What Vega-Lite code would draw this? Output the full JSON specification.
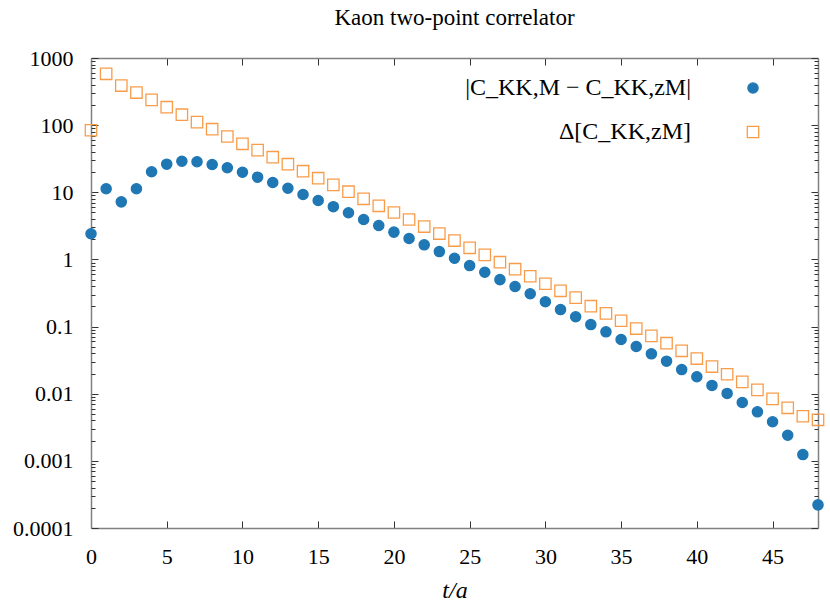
{
  "$schema": "https://vega.github.io/schema/vega-lite/v6.json",
  "autosize": "none",
  "width": 727,
  "height": 470,
  "padding": {"left": 91, "top": 58, "right": 12, "bottom": 87},
  "background": "white",
  "config": {
    "view": {"stroke": null},
    "font": "Liberation Serif",
    "axis": {
      "grid": false,
      "labelFont": "Liberation Serif",
      "labelFontSize": 22,
      "labelColor": "black",
      "titleFont": "Liberation Serif",
      "titleColor": "black",
      "domainColor": "#808080",
      "domainWidth": 1.5,
      "tickColor": "#333333",
      "tickWidth": 1,
      "labelFlush": false,
      "labelOverlap": false,
      "labelBound": false
    },
    "legend": {
      "orient": "none",
      "legendX": 650,
      "legendY": 18,
      "labelAlign": "right",
      "labelOffset": -74,
      "labelFont": "Liberation Serif",
      "labelFontSize": 24,
      "labelColor": "black",
      "labelLimit": 0,
      "rowPadding": 20,
      "symbolStrokeWidth": 1.3
    }
  },
  "title": {
    "text": "Kaon two-point correlator",
    "font": "Liberation Serif",
    "fontSize": 23,
    "fontWeight": "normal",
    "color": "black",
    "anchor": "middle",
    "frame": "group",
    "offset": 17
  },
  "data": {
    "values": [
      {"t": 0, "v": 2.41, "series": "|C_KK,M − C_KK,zM|"},
      {"t": 1, "v": 11.3, "series": "|C_KK,M − C_KK,zM|"},
      {"t": 2, "v": 7.2, "series": "|C_KK,M − C_KK,zM|"},
      {"t": 3, "v": 11.3, "series": "|C_KK,M − C_KK,zM|"},
      {"t": 4, "v": 20.2, "series": "|C_KK,M − C_KK,zM|"},
      {"t": 5, "v": 26.2, "series": "|C_KK,M − C_KK,zM|"},
      {"t": 6, "v": 29, "series": "|C_KK,M − C_KK,zM|"},
      {"t": 7, "v": 28.5, "series": "|C_KK,M − C_KK,zM|"},
      {"t": 8, "v": 25.9, "series": "|C_KK,M − C_KK,zM|"},
      {"t": 9, "v": 23.2, "series": "|C_KK,M − C_KK,zM|"},
      {"t": 10, "v": 19.9, "series": "|C_KK,M − C_KK,zM|"},
      {"t": 11, "v": 16.8, "series": "|C_KK,M − C_KK,zM|"},
      {"t": 12, "v": 14.0, "series": "|C_KK,M − C_KK,zM|"},
      {"t": 13, "v": 11.5, "series": "|C_KK,M − C_KK,zM|"},
      {"t": 14, "v": 9.27, "series": "|C_KK,M − C_KK,zM|"},
      {"t": 15, "v": 7.55, "series": "|C_KK,M − C_KK,zM|"},
      {"t": 16, "v": 6.1, "series": "|C_KK,M − C_KK,zM|"},
      {"t": 17, "v": 4.95, "series": "|C_KK,M − C_KK,zM|"},
      {"t": 18, "v": 3.93, "series": "|C_KK,M − C_KK,zM|"},
      {"t": 19, "v": 3.2, "series": "|C_KK,M − C_KK,zM|"},
      {"t": 20, "v": 2.55, "series": "|C_KK,M − C_KK,zM|"},
      {"t": 21, "v": 2.05, "series": "|C_KK,M − C_KK,zM|"},
      {"t": 22, "v": 1.65, "series": "|C_KK,M − C_KK,zM|"},
      {"t": 23, "v": 1.31, "series": "|C_KK,M − C_KK,zM|"},
      {"t": 24, "v": 1.04, "series": "|C_KK,M − C_KK,zM|"},
      {"t": 25, "v": 0.81, "series": "|C_KK,M − C_KK,zM|"},
      {"t": 26, "v": 0.645, "series": "|C_KK,M − C_KK,zM|"},
      {"t": 27, "v": 0.5, "series": "|C_KK,M − C_KK,zM|"},
      {"t": 28, "v": 0.395, "series": "|C_KK,M − C_KK,zM|"},
      {"t": 29, "v": 0.308, "series": "|C_KK,M − C_KK,zM|"},
      {"t": 30, "v": 0.234, "series": "|C_KK,M − C_KK,zM|"},
      {"t": 31, "v": 0.179, "series": "|C_KK,M − C_KK,zM|"},
      {"t": 32, "v": 0.14, "series": "|C_KK,M − C_KK,zM|"},
      {"t": 33, "v": 0.107, "series": "|C_KK,M − C_KK,zM|"},
      {"t": 34, "v": 0.0836, "series": "|C_KK,M − C_KK,zM|"},
      {"t": 35, "v": 0.0642, "series": "|C_KK,M − C_KK,zM|"},
      {"t": 36, "v": 0.0505, "series": "|C_KK,M − C_KK,zM|"},
      {"t": 37, "v": 0.0393, "series": "|C_KK,M − C_KK,zM|"},
      {"t": 38, "v": 0.0305, "series": "|C_KK,M − C_KK,zM|"},
      {"t": 39, "v": 0.0229, "series": "|C_KK,M − C_KK,zM|"},
      {"t": 40, "v": 0.0179, "series": "|C_KK,M − C_KK,zM|"},
      {"t": 41, "v": 0.0133, "series": "|C_KK,M − C_KK,zM|"},
      {"t": 42, "v": 0.0101, "series": "|C_KK,M − C_KK,zM|"},
      {"t": 43, "v": 0.0074, "series": "|C_KK,M − C_KK,zM|"},
      {"t": 44, "v": 0.00537, "series": "|C_KK,M − C_KK,zM|"},
      {"t": 45, "v": 0.00382, "series": "|C_KK,M − C_KK,zM|"},
      {"t": 46, "v": 0.00241, "series": "|C_KK,M − C_KK,zM|"},
      {"t": 47, "v": 0.00124, "series": "|C_KK,M − C_KK,zM|"},
      {"t": 48, "v": 0.000221, "series": "|C_KK,M − C_KK,zM|"},
      {"t": 0, "v": 84, "series": "Δ[C_KK,zM]"},
      {"t": 1, "v": 582, "series": "Δ[C_KK,zM]"},
      {"t": 2, "v": 389, "series": "Δ[C_KK,zM]"},
      {"t": 3, "v": 306, "series": "Δ[C_KK,zM]"},
      {"t": 4, "v": 238, "series": "Δ[C_KK,zM]"},
      {"t": 5, "v": 185, "series": "Δ[C_KK,zM]"},
      {"t": 6, "v": 143, "series": "Δ[C_KK,zM]"},
      {"t": 7, "v": 111, "series": "Δ[C_KK,zM]"},
      {"t": 8, "v": 87, "series": "Δ[C_KK,zM]"},
      {"t": 9, "v": 67.7, "series": "Δ[C_KK,zM]"},
      {"t": 10, "v": 52.7, "series": "Δ[C_KK,zM]"},
      {"t": 11, "v": 42.4, "series": "Δ[C_KK,zM]"},
      {"t": 12, "v": 33.3, "series": "Δ[C_KK,zM]"},
      {"t": 13, "v": 26.2, "series": "Δ[C_KK,zM]"},
      {"t": 14, "v": 20.6, "series": "Δ[C_KK,zM]"},
      {"t": 15, "v": 16.2, "series": "Δ[C_KK,zM]"},
      {"t": 16, "v": 12.9, "series": "Δ[C_KK,zM]"},
      {"t": 17, "v": 10.2, "series": "Δ[C_KK,zM]"},
      {"t": 18, "v": 8.0, "series": "Δ[C_KK,zM]"},
      {"t": 19, "v": 6.29, "series": "Δ[C_KK,zM]"},
      {"t": 20, "v": 5.0, "series": "Δ[C_KK,zM]"},
      {"t": 21, "v": 3.93, "series": "Δ[C_KK,zM]"},
      {"t": 22, "v": 3.09, "series": "Δ[C_KK,zM]"},
      {"t": 23, "v": 2.43, "series": "Δ[C_KK,zM]"},
      {"t": 24, "v": 1.91, "series": "Δ[C_KK,zM]"},
      {"t": 25, "v": 1.49, "series": "Δ[C_KK,zM]"},
      {"t": 26, "v": 1.17, "series": "Δ[C_KK,zM]"},
      {"t": 27, "v": 0.91, "series": "Δ[C_KK,zM]"},
      {"t": 28, "v": 0.715, "series": "Δ[C_KK,zM]"},
      {"t": 29, "v": 0.562, "series": "Δ[C_KK,zM]"},
      {"t": 30, "v": 0.434, "series": "Δ[C_KK,zM]"},
      {"t": 31, "v": 0.341, "series": "Δ[C_KK,zM]"},
      {"t": 32, "v": 0.27, "series": "Δ[C_KK,zM]"},
      {"t": 33, "v": 0.201, "series": "Δ[C_KK,zM]"},
      {"t": 34, "v": 0.157, "series": "Δ[C_KK,zM]"},
      {"t": 35, "v": 0.122, "series": "Δ[C_KK,zM]"},
      {"t": 36, "v": 0.0935, "series": "Δ[C_KK,zM]"},
      {"t": 37, "v": 0.0728, "series": "Δ[C_KK,zM]"},
      {"t": 38, "v": 0.0565, "series": "Δ[C_KK,zM]"},
      {"t": 39, "v": 0.0436, "series": "Δ[C_KK,zM]"},
      {"t": 40, "v": 0.0334, "series": "Δ[C_KK,zM]"},
      {"t": 41, "v": 0.0254, "series": "Δ[C_KK,zM]"},
      {"t": 42, "v": 0.0195, "series": "Δ[C_KK,zM]"},
      {"t": 43, "v": 0.015, "series": "Δ[C_KK,zM]"},
      {"t": 44, "v": 0.0114, "series": "Δ[C_KK,zM]"},
      {"t": 45, "v": 0.00839, "series": "Δ[C_KK,zM]"},
      {"t": 46, "v": 0.00617, "series": "Δ[C_KK,zM]"},
      {"t": 47, "v": 0.00462, "series": "Δ[C_KK,zM]"},
      {"t": 48, "v": 0.00409, "series": "Δ[C_KK,zM]"}
    ]
  },
  "layer": [
    {
      "mark": {"type": "point", "strokeWidth": 1.3, "opacity": 1},
      "encoding": {
        "x": {
          "field": "t", "type": "quantitative",
          "scale": {"domain": [0, 48], "nice": false, "zero": false},
          "axis": {
            "orient": "bottom",
            "values": [0, 5, 10, 15, 20, 25, 30, 35, 40, 45],
            "tickSize": -7,
            "labelPadding": 25,
            "title": "t/a",
            "titleFontStyle": "italic",
            "titleFontWeight": "normal",
            "titleFontSize": 24,
            "titlePadding": 11
          }
        },
        "y": {
          "field": "v", "type": "quantitative",
          "scale": {"type": "log", "domain": [0.0001, 1000], "nice": false},
          "axis": {
            "orient": "left",
            "values": [0.0001, 0.001, 0.01, 0.1, 1, 10, 100, 1000],
            "format": "~g",
            "tickSize": -7,
            "labelPadding": 25,
            "title": null
          }
        },
        "shape": {
          "field": "series", "type": "nominal",
          "scale": {"domain": ["|C_KK,M − C_KK,zM|", "Δ[C_KK,zM]"], "range": ["circle", "square"]},
          "legend": {"title": null}
        },
        "fill": {
          "field": "series", "type": "nominal",
          "scale": {"domain": ["|C_KK,M − C_KK,zM|", "Δ[C_KK,zM]"], "range": ["#1f77b4", "transparent"]},
          "legend": {"title": null}
        },
        "stroke": {
          "field": "series", "type": "nominal",
          "scale": {"domain": ["|C_KK,M − C_KK,zM|", "Δ[C_KK,zM]"], "range": ["#1f77b4", "#f89c4a"]},
          "legend": {"title": null}
        },
        "size": {
          "field": "series", "type": "nominal",
          "scale": {"domain": ["|C_KK,M − C_KK,zM|", "Δ[C_KK,zM]"], "range": [105, 130]},
          "legend": {"title": null}
        }
      }
    },
    {
      "mark": {"type": "point", "opacity": 0},
      "encoding": {
        "x": {
          "field": "t", "type": "quantitative",
          "scale": {"domain": [0, 48], "nice": false, "zero": false},
          "axis": {"orient": "top", "values": [0, 5, 10, 15, 20, 25, 30, 35, 40, 45], "tickSize": -7, "labels": false, "title": null}
        },
        "y": {
          "field": "v", "type": "quantitative",
          "scale": {"type": "log", "domain": [0.0001, 1000], "nice": false},
          "axis": {"orient": "right", "values": [0.0001, 0.001, 0.01, 0.1, 1, 10, 100, 1000], "tickSize": -7, "labels": false, "title": null}
        }
      }
    },
    {
      "mark": {"type": "point", "opacity": 0},
      "encoding": {
        "x": {"field": "t", "type": "quantitative", "scale": {"domain": [0, 48], "nice": false, "zero": false}, "axis": null},
        "y": {
          "field": "v", "type": "quantitative",
          "scale": {"type": "log", "domain": [0.0001, 1000], "nice": false},
          "axis": {
            "orient": "left", "domain": false, "labels": false, "title": null, "tickSize": -4,
            "values": [0.0002, 0.0003, 0.0004, 0.0005, 0.0006, 0.0007, 0.0008, 0.0009, 0.002, 0.003, 0.004, 0.005, 0.006, 0.007, 0.008, 0.009, 0.02, 0.03, 0.04, 0.05, 0.06, 0.07, 0.08, 0.09, 0.2, 0.3, 0.4, 0.5, 0.6, 0.7, 0.8, 0.9, 2, 3, 4, 5, 6, 7, 8, 9, 20, 30, 40, 50, 60, 70, 80, 90, 200, 300, 400, 500, 600, 700, 800, 900]
          }
        }
      }
    },
    {
      "mark": {"type": "point", "opacity": 0},
      "encoding": {
        "x": {"field": "t", "type": "quantitative", "scale": {"domain": [0, 48], "nice": false, "zero": false}, "axis": null},
        "y": {
          "field": "v", "type": "quantitative",
          "scale": {"type": "log", "domain": [0.0001, 1000], "nice": false},
          "axis": {
            "orient": "right", "domain": false, "labels": false, "title": null, "tickSize": -4,
            "values": [0.0002, 0.0003, 0.0004, 0.0005, 0.0006, 0.0007, 0.0008, 0.0009, 0.002, 0.003, 0.004, 0.005, 0.006, 0.007, 0.008, 0.009, 0.02, 0.03, 0.04, 0.05, 0.06, 0.07, 0.08, 0.09, 0.2, 0.3, 0.4, 0.5, 0.6, 0.7, 0.8, 0.9, 2, 3, 4, 5, 6, 7, 8, 9, 20, 30, 40, 50, 60, 70, 80, 90, 200, 300, 400, 500, 600, 700, 800, 900]
          }
        }
      }
    }
  ],
  "resolve": {"axis": {"x": "independent", "y": "independent"}}
}
